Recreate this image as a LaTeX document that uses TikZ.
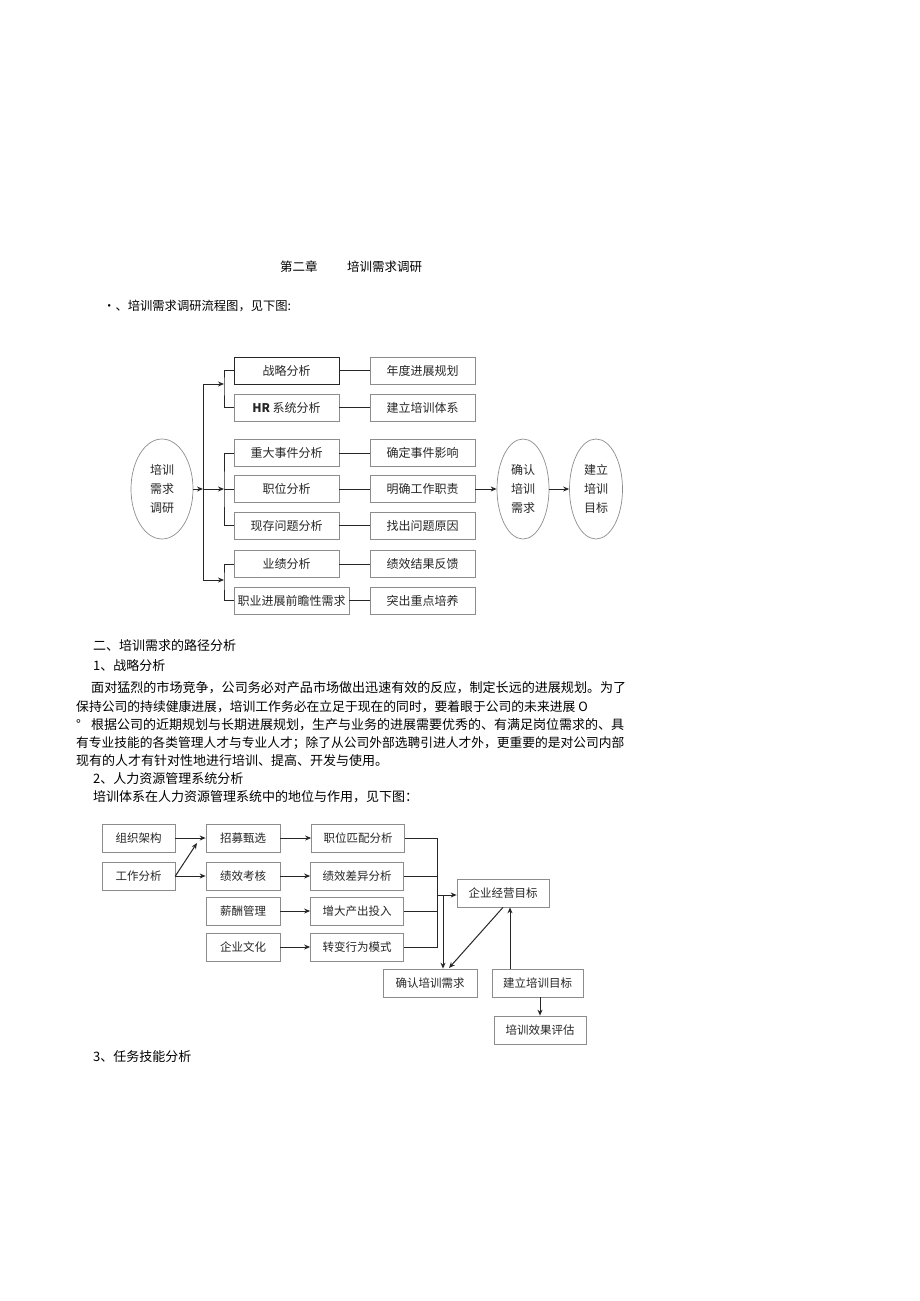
\documentclass[tikz,border=0pt]{standalone}
\usepackage{fontspec}
\setmainfont{Noto Sans CJK SC}
\usetikzlibrary{positioning, arrows.meta, shapes.geometric}

\begin{document}
\begin{tikzpicture}[
        x=1pt, y=-1pt,
        txt/.style={anchor=west, inner sep=0pt, font=\fontsize{13}{15}\selectfont},
        box/.style={rectangle, draw=black!45, line width=0.7pt, minimum width=105, minimum height=27, inner sep=1pt, font=\fontsize{12}{14}\selectfont, text=black!85},
        mainbox/.style={box, draw=black!85, line width=1pt},
        oval/.style={ellipse, draw=black!45, line width=0.7pt, minimum width=53, minimum height=100, inner sep=0pt, align=center, font=\fontsize{12}{19}\selectfont, text=black!85},
        smallbox/.style={box, minimum width=74, minimum height=28, font=\fontsize{11.5}{14}\selectfont},
        widebox/.style={smallbox, minimum width=93},
        link/.style={draw=black!85, line width=1pt},
        arr/.style={link, -{Stealth[length=6pt, width=5pt]}},
    ]
    \useasboundingbox (0,0) rectangle (920,1301);

    % Headings
    \node[txt, font=\fontsize{12.5}{15}\selectfont] (chap) at (280,267) {第二章};
    \node[txt, font=\fontsize{12.5}{15}\selectfont] (chaptitle) at (347,267) {培训需求调研};
    \node[txt, font=\fontsize{12.3}{15}\selectfont] (intro) at (103,306) {•、培训需求调研流程图，见下图:};

    % Flow chart 1: left ellipse
    \node[oval, minimum width=62] (need) at (162,489) {培训\\需求\\调研};

    % Row boxes
    \node[mainbox] (b1) at (286.5,370.5) {战略分析};
    \node[box] (b2) at (286.5,407.5) {\textbf{HR} 系统分析};
    \node[box] (b3) at (286.5,453) {重大事件分析};
    \node[box] (b4) at (286.5,489) {职位分析};
    \node[box] (b5) at (286.5,525.5) {现存问题分析};
    \node[box] (b6) at (286.5,564) {业绩分析};
    \node[box, minimum width=115] (b7) at (291.5,600.5) {职业进展前瞻性需求};

    \node[box] (r1) at (422.5,370.5) {年度进展规划};
    \node[box] (r2) at (422.5,407.5) {建立培训体系};
    \node[box] (r3) at (422.5,453) {确定事件影响};
    \node[box] (r4) at (422.5,489) {明确工作职责};
    \node[box] (r5) at (422.5,525.5) {找出问题原因};
    \node[box] (r6) at (422.5,564) {绩效结果反馈};
    \node[box] (r7) at (422.5,600.5) {突出重点培养};

    \node[oval, minimum width=52] (confirm) at (523,489) {确认\\培训\\需求};
    \node[oval] (goal) at (596,489) {建立\\培训\\目标};

    % Branches
    \coordinate (top) at (203,384);
    \coordinate (mid) at (203,489);
    \coordinate (bot) at (203,580);
    \coordinate (s1) at (224,384);
    \coordinate (s2) at (224,489);
    \coordinate (s3) at (224,580);
    \draw[link] (top) -- (bot);
    \draw[arr] (need.east) -- (mid);
    \draw[arr] (top) -- (s1);
    \draw[arr] (mid) -- (s2);
    \draw[arr] (bot) -- (s3);
    \draw[link] (b1.west) -| (s1) |- (b2.west);
    \draw[link] (b3.west) -| (s2) |- (b5.west);
    \draw[link] (s2) -- (b4.west);
    \draw[link] (b6.west) -| (s3) |- (b7.west);

    \foreach \i in {1,...,7} {
        \draw[link] (b\i.east) -- (r\i.west);
    }
    \draw[arr] (r4.east) -- (confirm.west);
    \draw[arr] (confirm.east) -- (goal.west);

    % Text section 2
    \node[txt] (sec2) at (93,646) {二、培训需求的路径分析};
    \node[txt] (sec21) at (93,666) {1、战略分析};
    \node[txt, font=\fontsize{13.05}{15}\selectfont] (p1) at (91,688) {面对猛烈的市场竞争，公司务必对产品市场做出迅速有效的反应，制定长远的进展规划。为了};
    \node[txt, font=\fontsize{12.8}{15}\selectfont] (p2) at (76,707) {保持公司的持续健康进展，培训工作务必在立足于现在的同时，要着眼于公司的未来进展 O};
    \node[txt] (p3a) at (76,725) {°};
    \node[txt, font=\fontsize{13.0}{15}\selectfont] (p3) at (91,725) {根据公司的近期规划与长期进展规划，生产与业务的进展需要优秀的、有满足岗位需求的、具};
    \node[txt, font=\fontsize{12.75}{15}\selectfont] (p4) at (76,743) {有专业技能的各类管理人才与专业人才；除了从公司外部选聘引进人才外，更重要的是对公司内部};
    \node[txt] (p5) at (76,761) {现有的人才有针对性地进行培训、提高、开发与使用。};
    \node[txt] (sec22) at (93,779) {2、人力资源管理系统分析};
    \node[txt] (p6) at (93,797) {培训体系在人力资源管理系统中的地位与作用，见下图：};

    % Flow chart 2
    \node[smallbox, minimum width=73] (org) at (138.5,838) {组织架构};
    \node[smallbox, minimum width=73] (work) at (138.5,876) {工作分析};
    \node[smallbox] (hire) at (243,838) {招募甄选};
    \node[smallbox] (appr) at (243,876) {绩效考核};
    \node[smallbox] (pay) at (243,911) {薪酬管理};
    \node[smallbox] (cult) at (243,947) {企业文化};
    \node[widebox] (match) at (358,838) {职位匹配分析};
    \node[widebox] (gap) at (357,876) {绩效差异分析};
    \node[widebox] (output) at (357,911) {增大产出投入};
    \node[widebox] (behav) at (357,947) {转变行为模式};

    \node[widebox, minimum width=92] (bizgoal) at (503,893) {企业经营目标};
    \node[widebox, minimum width=94] (needok) at (430,983) {确认培训需求};
    \node[widebox, minimum width=91] (setgoal) at (537.5,983) {建立培训目标};
    \node[widebox, minimum width=92] (eval) at (540,1030) {培训效果评估};

    \coordinate (hirein) at (197,843);
    \draw[arr] (org) -- (hire);
    \draw[arr] (work.east) -- (hirein);
    \draw[arr] (work) -- (appr);
    \draw[arr] (hire) -- (match);
    \draw[arr] (appr) -- (gap);
    \draw[arr] (pay) -- (output);
    \draw[arr] (cult) -- (behav);

    \coordinate (bustop) at (437,838);
    \coordinate (busbot) at (437,947);
    \coordinate (busmid) at (437,895);
    \coordinate (down) at (443,895);
    \coordinate (needin) at (449,968);
    \coordinate (up) at (510,969);
    \draw[link] (match.east) -- (bustop) -- (busbot) -- (behav.east);
    \draw[link] (gap.east) -- (gap.east -| bustop);
    \draw[link] (output.east) -- (output.east -| bustop);
    \draw[arr] (busmid) -- (busmid -| bizgoal.west);
    \draw[arr] (down) -- (down |- needok.north);
    \draw[arr] (bizgoal.south) -- (needin);
    \draw[arr] (up) -- (up |- bizgoal.south);
    \draw[arr] (setgoal.south -| eval) -- (eval.north);

    \node[txt] (sec23) at (93,1057) {3、任务技能分析};
\end{tikzpicture}
\end{document}
